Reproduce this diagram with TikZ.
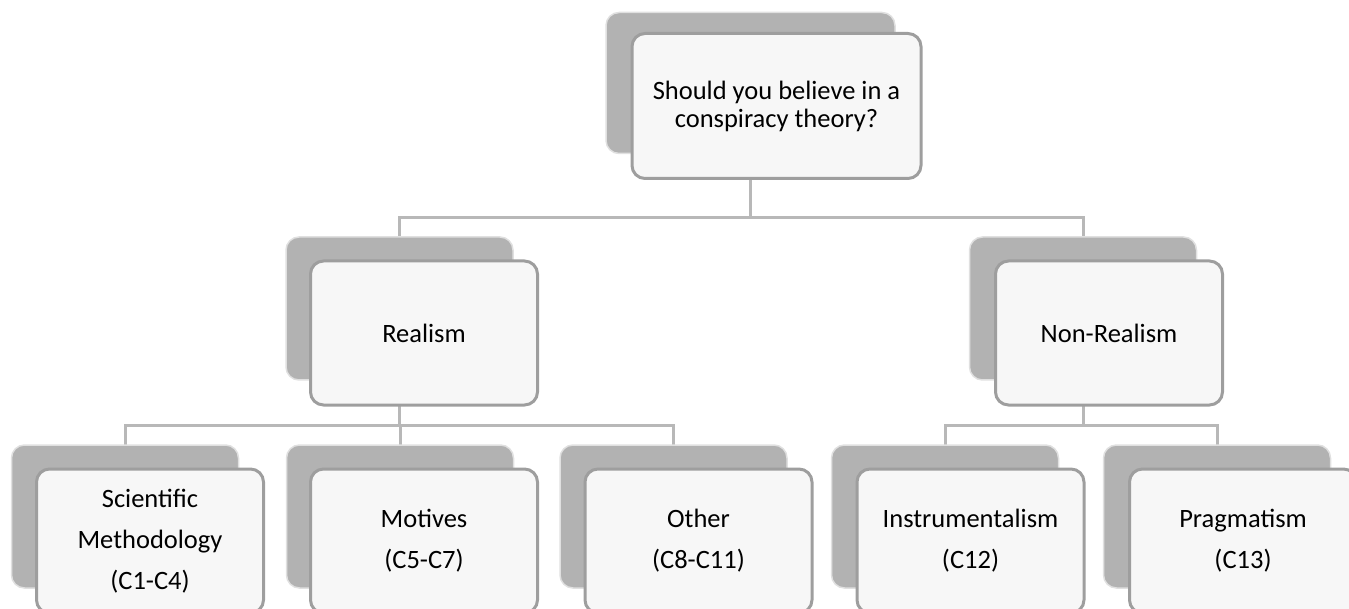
\documentclass[tikz,border=0pt]{standalone}
\usepackage{fontspec}
\setmainfont{Carlito}
\usetikzlibrary{backgrounds}
\begin{document}
\begin{tikzpicture}[x=1pt,y=-1pt,
        back/.style={rounded corners=13pt,fill=black!30,draw=black!12,line width=1.5pt,
                minimum width=227pt,minimum height=143pt,inner sep=0pt},
        front/.style={rounded corners=13pt,fill=black!3,draw=black!38,line width=3pt,
                minimum width=227pt,minimum height=144pt,inner sep=0pt,align=center,
                font=\fontsize{26.5}{41}\selectfont},
        link/.style={draw=black!28,line width=3pt}]
        \useasboundingbox (0,0) rectangle (1349,609);

        % question
        \node[back,minimum width=289pt,minimum height=141pt] (qb) at (750.5,83) {};
        \node[front,minimum width=289pt,minimum height=145pt,font=\fontsize{26.5}{28}\selectfont]
                (qf) at (776.5,106) {Should you believe in a\\conspiracy theory?};

        % second level
        \node[back] (rb) at (399.5,308.5) {};
        \node[front] (rf) at (424,333) {Realism};
        \node[back] (nb) at (1083,308.5) {};
        \node[front] (nf) at (1109,333) {Non-Realism};

        % third level
        \node[back] (sb) at (125,516.5) {};
        \node[front] (sf) at (150,541) {Scientific\\Methodology\\(C1-C4)};
        \node[back] (mb) at (400,516.5) {};
        \node[front] (mf) at (424,541) {Motives\\(C5-C7)};
        \node[back] (ob) at (673.5,516.5) {};
        \node[front] (of) at (698.5,541) {Other\\(C8-C11)};
        \node[back] (ib) at (945,516.5) {};
        \node[front] (if) at (970.5,541) {Instrumentalism\\(C12)};
        \node[back] (pb) at (1217,516.5) {};
        \node[front] (pf) at (1243,541) {Pragmatism\\(C13)};

        \begin{scope}[on background layer]
            \draw[link] (qb.center) -- ++(0,135) -| (rb.center);
            \draw[link] (qb.center) -- ++(0,135) -| (nb.center);
            \draw[link] (rb.center) -- ++(0,116.5) -| (sb.center);
            \draw[link] (rb.center) -- ++(0,116.5) -| (mb.center);
            \draw[link] (rb.center) -- ++(0,116.5) -| (ob.center);
            \draw[link] (nb.center) -- ++(0,116.5) -| (ib.center);
            \draw[link] (nb.center) -- ++(0,116.5) -| (pb.center);
        \end{scope}
    \end{tikzpicture}
\end{document}
